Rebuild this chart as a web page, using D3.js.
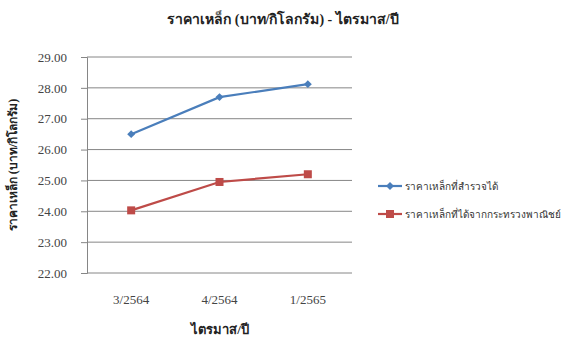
<!DOCTYPE html>
<html><head><meta charset="utf-8">
<script src="https://cdn.jsdelivr.net/npm/d3@7"></script>
<style>
body{margin:0;background:#fff;}
</style></head><body>
<svg id="c" width="571" height="342"></svg>
<script>
const categories = ["3/2564","4/2564","1/2565"];
const seriesNames = ["ราคาเหล็กที่สำรวจได้","ราคาเหล็กที่ได้จากกระทรวงพาณิชย์"];
const surveyed = [26.50, 27.70, 28.12];
const ministry = [24.03, 24.95, 25.20];
const yTicks = [22,23,24,25,26,27,28,29];
const title = "ราคาเหล็ก (บาท/กิโลกรัม) - ไตรมาส/ปี";
const yTitle = "ราคาเหล็ก (บาท/กิโลกรัม)";
const xTitle = "ไตรมาส/ปี";
const colors = ["#4a7ebb","#be4b48"];

const svg = d3.select("#c");
const L=87, R=352, T=57, B=273;
const x = d3.scaleBand().domain(categories).range([L,R]);
const y = d3.scaleLinear().domain([22,29]).range([B,T]);
const serif = "'Liberation Serif','Times New Roman',serif";

svg.append("g").selectAll("line").data(yTicks.filter(d=>d>22)).join("line")
  .attr("x1",L).attr("x2",R).attr("y1",d=>y(d)).attr("y2",d=>y(d))
  .attr("stroke","#868686").attr("stroke-width",1);

const ya = svg.append("g").attr("transform",`translate(${L},0)`)
  .call(d3.axisLeft(y).tickValues(yTicks).tickFormat(d3.format(".2f")).tickSize(6).tickPadding(14));
ya.select(".domain").attr("stroke","#868686");
ya.selectAll(".tick line").attr("stroke","#868686");
ya.selectAll("text").style("font-family",serif).style("font-size","13px").attr("fill","#444");

const xa = svg.append("g").attr("transform",`translate(0,${B})`)
  .call(d3.axisBottom(x).tickSize(0).tickPadding(22));
xa.select(".domain").attr("stroke","#868686").attr("d",`M${L},0H${R}`);
xa.selectAll("text").style("font-family",serif).style("font-size","13px").attr("fill","#444");

const data = [surveyed, ministry];
const line = d3.line().x((d,i)=>x(categories[i])+x.bandwidth()/2).y(d=>y(d));
data.forEach((s,k)=>{
  svg.append("path").attr("d",line(s)).attr("fill","none").attr("stroke",colors[k]).attr("stroke-width",2.2);
});
svg.append("g").selectAll("path").data(surveyed).join("path")
  .attr("transform",(d,i)=>`translate(${x(categories[i])+x.bandwidth()/2},${y(d)})`)
  .attr("d",d3.symbol(d3.symbolDiamond2,40)).attr("fill",colors[0]);
svg.append("g").selectAll("rect").data(ministry).join("rect")
  .attr("x",(d,i)=>x(categories[i])+x.bandwidth()/2-4).attr("y",d=>y(d)-4)
  .attr("width",8).attr("height",8).attr("fill",colors[1]);

svg.append("text").attr("x",283).attr("y",24).attr("text-anchor","middle")
  .style("font-size","14px").attr("font-weight","bold").attr("fill","#222").text(title);
svg.append("text").attr("transform","translate(17,165) rotate(-90)").attr("text-anchor","middle")
  .style("font-size","12px").attr("font-weight","bold").attr("fill","#222").text(yTitle);
svg.append("text").attr("x",220).attr("y",334).attr("text-anchor","middle")
  .style("font-size","13px").attr("font-weight","bold").attr("fill","#222").text(xTitle);

const lg = svg.append("g");
seriesNames.forEach((n,k)=>{
  const yy = 186 + k*28;
  lg.append("line").attr("x1",378).attr("x2",402).attr("y1",yy).attr("y2",yy).attr("stroke",colors[k]).attr("stroke-width",2.2);
  if(k===0) lg.append("path").attr("transform",`translate(390,${yy})`).attr("d",d3.symbol(d3.symbolDiamond2,40)).attr("fill",colors[0]);
  else lg.append("rect").attr("x",386).attr("y",yy-4).attr("width",8).attr("height",8).attr("fill",colors[1]);
  lg.append("text").attr("x",405).attr("y",yy+4).style("font-size","10px").attr("fill","#333").text(n);
});
</script></body></html>
